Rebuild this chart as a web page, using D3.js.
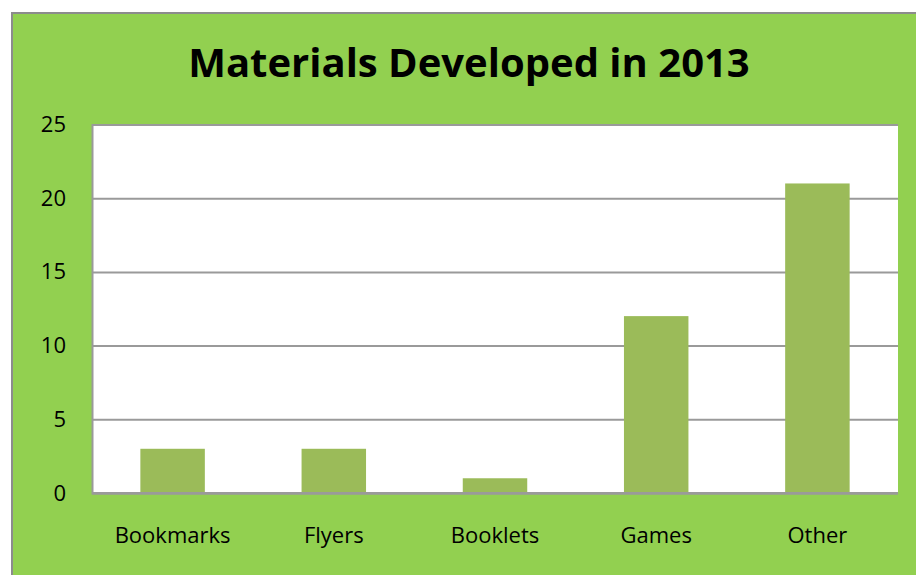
<!DOCTYPE html>
<html>
<head>
<meta charset="utf-8">
<script src="https://cdn.jsdelivr.net/npm/d3@7"></script>
<style>
  html, body { margin: 0; padding: 0; background: #ffffff; }
  svg { display: block; }
</style>
</head>
<body>
<svg id="chart" width="916" height="575"></svg>
<script>
// Materials developed in 2013, by type
const categories = ["Bookmarks", "Flyers", "Booklets", "Games", "Other"];
const counts = [3, 3, 1, 12, 21];
const yTicks = [0, 5, 10, 15, 20, 25];
const title = "Materials Developed in 2013";

const svg = d3.select("#chart");
const font = "'Open Sans', Lato, sans-serif";

// chart background with grey border
svg.append("rect")
  .attr("x", 12).attr("y", 13)
  .attr("width", 930).attr("height", 580)
  .attr("fill", "#92D050")
  .attr("stroke", "#8C8C8C").attr("stroke-width", 2);

const plot = { left: 92, right: 898, top: 124.5, bottom: 493 };

const x = d3.scaleBand()
  .domain(categories)
  .range([plot.left, plot.right])
  .paddingInner(0.6)
  .paddingOuter(0.3);

const y = d3.scaleLinear()
  .domain([0, 25])
  .range([plot.bottom, plot.top]);

// plot area
svg.append("rect")
  .attr("x", plot.left).attr("y", plot.top)
  .attr("width", plot.right - plot.left)
  .attr("height", plot.bottom - plot.top)
  .attr("fill", "#ffffff");

// horizontal gridlines and value labels
const yAxis = d3.axisLeft(y).tickValues(yTicks).tickSize(-(plot.right - plot.left)).tickPadding(26);
const gy = svg.append("g")
  .attr("transform", `translate(${plot.left},0)`)
  .call(yAxis);
gy.select(".domain").attr("stroke", "#9A9A9A").attr("stroke-width", 2);
gy.selectAll(".tick line").attr("stroke", "#9A9A9A").attr("stroke-width", 2);
gy.selectAll(".tick text")
  .attr("font-family", font)
  .attr("font-size", 22)
  .attr("fill", "#000");

// bars
svg.append("g")
  .selectAll("rect")
  .data(categories.map((c, i) => ({ c, v: counts[i] })))
  .join("rect")
  .attr("x", d => x(d.c))
  .attr("y", d => y(d.v))
  .attr("width", x.bandwidth())
  .attr("height", d => y(0) - y(d.v))
  .attr("fill", "#9BBB59");

// category labels
const xAxis = d3.axisBottom(x).tickSize(0).tickPadding(0);
const gx = svg.append("g")
  .attr("transform", `translate(0,${plot.bottom})`)
  .call(xAxis);
gx.select(".domain").remove();
gx.selectAll(".tick text")
  .attr("dy", null)
  .attr("y", 50)
  .attr("font-family", font)
  .attr("font-size", 22)
  .attr("fill", "#000");

// baseline drawn over the bars
svg.append("line")
  .attr("x1", plot.left).attr("x2", plot.right)
  .attr("y1", plot.bottom).attr("y2", plot.bottom)
  .attr("stroke", "#9A9A9A").attr("stroke-width", 2);

// title
svg.append("text")
  .attr("x", 469).attr("y", 77)
  .attr("text-anchor", "middle")
  .attr("font-family", font)
  .attr("font-weight", "bold")
  .attr("font-size", 40)
  .attr("fill", "#000")
  .text(title);
</script>
</body>
</html>
